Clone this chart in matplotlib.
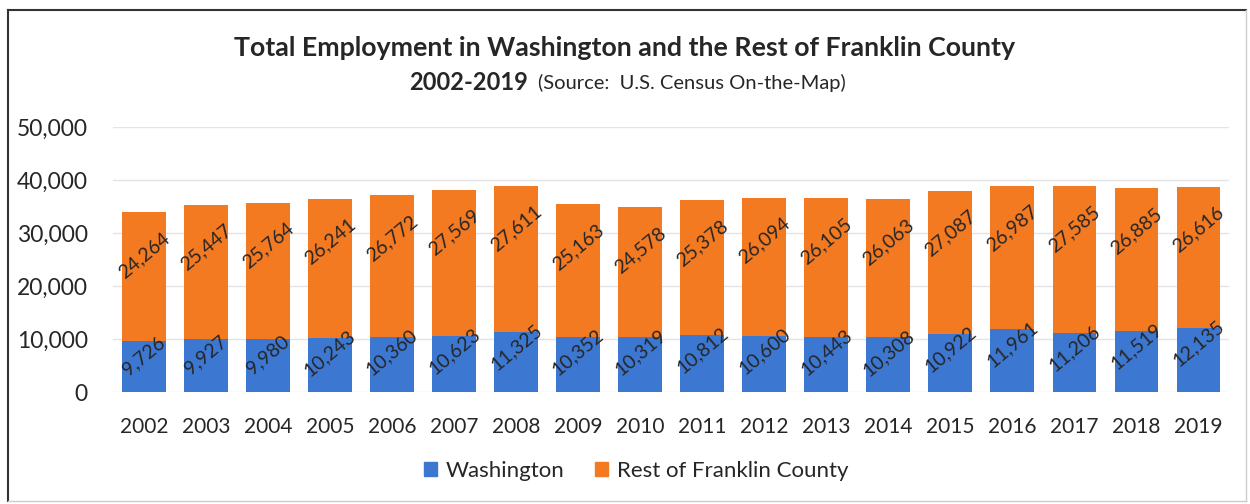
import numpy as np
import matplotlib.pyplot as plt
from matplotlib.lines import Line2D
from matplotlib.ticker import FuncFormatter

years = ['2002', '2003', '2004', '2005', '2006', '2007', '2008', '2009', '2010',
         '2011', '2012', '2013', '2014', '2015', '2016', '2017', '2018', '2019']
washington = [9726, 9927, 9980, 10243, 10360, 10623, 11325, 10352, 10319,
              10812, 10600, 10443, 10308, 10922, 11961, 11206, 11519, 12135]
rest = [24264, 25447, 25764, 26241, 26772, 27569, 27611, 25163, 24578,
        25378, 26094, 26105, 26063, 27087, 26987, 27585, 26885, 26616]

blue = '#3C78D2'
orange = '#F47A22'
txt = '#262626'

plt.rcParams['font.family'] = ['Lato', 'DejaVu Sans']

fig = plt.figure(figsize=(12.5, 5.04), dpi=100)
ax = fig.add_axes([0.0904, 0.222, 0.893, 0.526])

x = np.arange(len(years))
w = np.array(washington)
r = np.array(rest)
ax.bar(x, w, width=0.7, color=blue, zorder=2)
ax.bar(x, r, width=0.7, bottom=w, color=orange, zorder=2)

# value labels, tilted, hung just below the top of each segment
for i in range(len(years)):
    ax.annotate(f'{w[i]:,}', (x[i], w[i]), xytext=(0, -11), textcoords='offset points',
                ha='center', va='center', rotation=40, fontsize=14, color=txt, zorder=3)
    ax.annotate(f'{r[i]:,}', (x[i], w[i] + r[i]), xytext=(0, -31), textcoords='offset points',
                ha='center', va='center', rotation=40, fontsize=14, color=txt, zorder=3)

ax.set_xlim(-0.5, len(years) - 0.5)
ax.set_ylim(0, 50000)
ax.set_yticks(np.arange(0, 50001, 10000))
ax.yaxis.set_major_formatter(FuncFormatter(lambda v, p: f'{int(v):,}'))
ax.set_xticks(x)
ax.set_xticklabels(years)
ax.tick_params(axis='both', length=0, labelsize=15, colors=txt)
ax.tick_params(axis='y', pad=18, labelsize=16.5)
ax.tick_params(axis='x', pad=18)
ax.grid(axis='y', color='#E4E4E4', lw=1, zorder=0)
for s in ax.spines.values():
    s.set_visible(False)

fig.text(0.5, 0.905, 'Total Employment in Washington and the Rest of Franklin County',
         ha='center', va='center', fontsize=19.3, fontweight='bold', color=txt)
fig.text(0.4224, 0.837, '2002-2019', ha='right', va='center',
         fontsize=17, fontweight='bold', color=txt)
fig.text(0.4304, 0.835, '(Source:  U.S. Census On-the-Map)', ha='left', va='center',
         fontsize=14.5, color=txt)

handles = [plt.Rectangle((0, 0), 1, 1, color=blue),
           plt.Rectangle((0, 0), 1, 1, color=orange)]
fig.legend(handles, ['Washington', 'Rest of Franklin County'], loc='center',
           bbox_to_anchor=(0.509, 0.066), ncol=2, frameon=False, fontsize=16,
           handlelength=0.55, handleheight=0.55, handletextpad=0.4, columnspacing=1.4,
           labelcolor=txt)

# chart frame
fig.add_artist(Line2D([0.0064, 0.0064], [0.006, 0.98], color='#333333', lw=1.5))
fig.add_artist(Line2D([0.0064, 0.997], [0.98, 0.98], color='#333333', lw=1.5))
fig.add_artist(Line2D([0.997, 0.997], [0.006, 0.98], color='#CCCCCC', lw=1))
fig.add_artist(Line2D([0.0064, 0.997], [0.006, 0.006], color='#CCCCCC', lw=1))

fig.savefig('out.png', dpi=100)
